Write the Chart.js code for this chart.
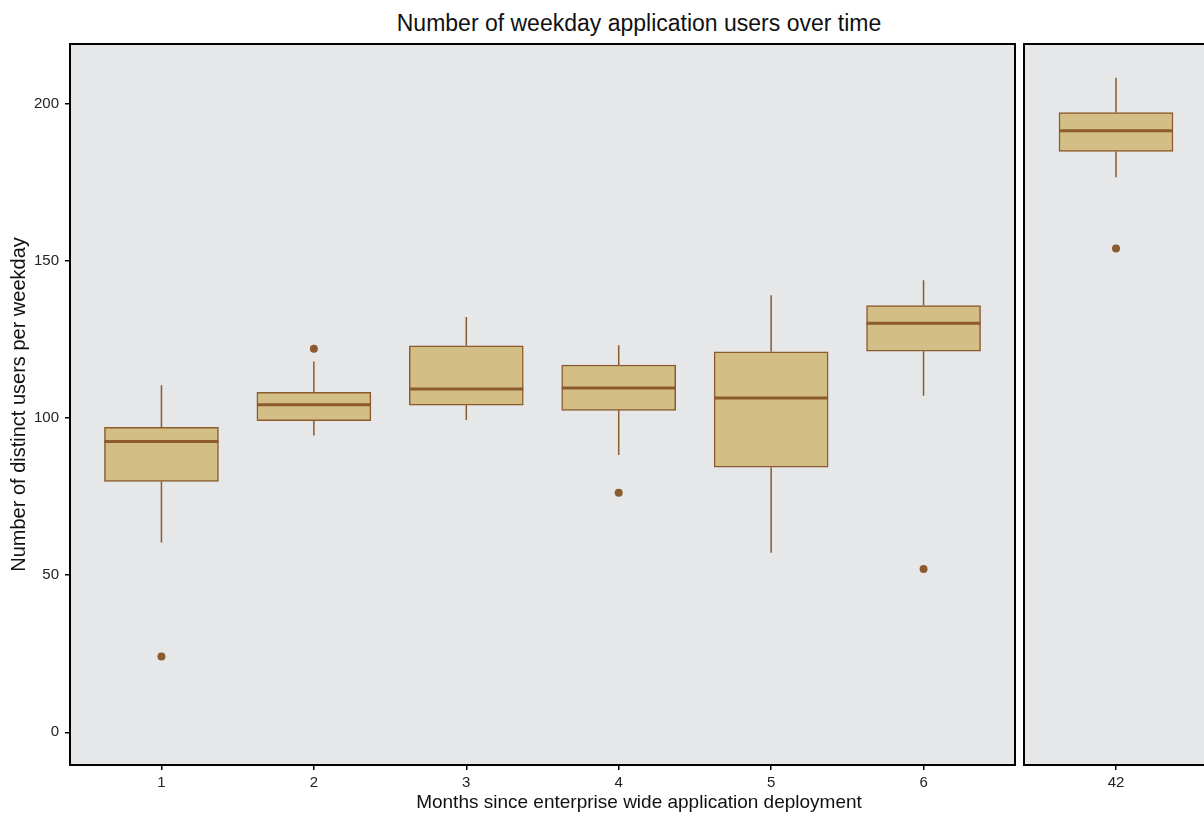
<!DOCTYPE html>
<html>
<head>
<meta charset="utf-8">
<script src="https://cdn.jsdelivr.net/npm/chart.js@4/dist/chart.umd.min.js"></script>
<style>
  body { margin: 0; background: #fff; }
  #wrap { position: relative; width: 1204px; height: 814px; overflow: hidden; background: #fff; }
  #wrap canvas { position: absolute; top: 0; }
  .lbl { position: absolute; left: 70px; width: 1138px; text-align: center; color: #111;
         font-family: "Liberation Sans", Arial, sans-serif; white-space: nowrap; }
  #title { top: 9px; font-size: 23px; line-height: 28px; }
  #xTitle { top: 790px; font-size: 19px; line-height: 24px; }
</style>
</head>
<body>
<div id="wrap">
  <div id="title" class="lbl">Number of weekday application users over time</div>
  <canvas id="panelA" width="1020" height="814" style="left:0"></canvas>
  <canvas id="panelB" width="196" height="814" style="left:1018px"></canvas>
  <div id="xTitle" class="lbl">Months since enterprise wide application deployment</div>
</div>
<script>
// months since deployment, one box per month
const months = [1, 2, 3, 4, 5, 6, 42];
const whiskerLow = [60.4, 94.4, 99.3, 88.2, 57.1, 107.0, 176.5];
const q1 = [79.8, 99.1, 104.0, 102.4, 84.3, 121.2, 184.7];
const median = [92.5, 104.2, 109.2, 109.5, 106.3, 130.1, 191.3];
const q3 = [97.0, 108.1, 122.9, 116.8, 121.0, 135.7, 197.1];
const whiskerHigh = [110.4, 117.9, 132.1, 123.1, 139.0, 143.8, 208.2];
// outliers
const outlierMonth = [1, 2, 4, 6, 42];
const outlierValue = [24.1, 122.0, 76.2, 51.9, 153.9];
const yTicks = [0, 50, 100, 150, 200];

const FILL = 'rgb(211,191,134)';
const LINE = 'rgb(139,90,46)';
const PANEL_BG = '#e6e7e8';

Chart.defaults.font.family = '"Liberation Sans", Arial, sans-serif';
Chart.defaults.color = '#222';

const boxParts = {
  id: 'boxParts',
  beforeDraw(chart) {
    const a = chart.chartArea, ctx = chart.ctx;
    ctx.save();
    ctx.fillStyle = PANEL_BG;
    ctx.fillRect(a.left, a.top, a.right - a.left, a.bottom - a.top);
    ctx.restore();
  },
  afterDatasetsDraw(chart) {
    const ctx = chart.ctx, ys = chart.scales.y;
    const idx = chart.data.datasets[0].idx;
    const bars = chart.getDatasetMeta(0).data;
    ctx.save();
    bars.forEach((bar, k) => {
      const i = idx[k];
      const x = bar.x, half = bar.width / 2;
      ctx.strokeStyle = LINE;
      ctx.lineWidth = 1.5;
      ctx.beginPath();
      ctx.moveTo(x, ys.getPixelForValue(whiskerHigh[i]));
      ctx.lineTo(x, ys.getPixelForValue(q3[i]));
      ctx.moveTo(x, ys.getPixelForValue(q1[i]));
      ctx.lineTo(x, ys.getPixelForValue(whiskerLow[i]));
      ctx.stroke();
      ctx.lineWidth = 3;
      ctx.beginPath();
      const my = ys.getPixelForValue(median[i]);
      ctx.moveTo(x - half, my);
      ctx.lineTo(x + half, my);
      ctx.stroke();
    });
    ctx.restore();
  },
  afterDraw(chart) {
    const a = chart.chartArea, ctx = chart.ctx;
    ctx.save();
    ctx.strokeStyle = '#000';
    ctx.lineWidth = 2;
    ctx.strokeRect(a.left, a.top, a.right - a.left, a.bottom - a.top);
    ctx.restore();
  }
};

function makePanel(id, keep, xMin, xMax, showY, padding) {
  const idx = months.map((m, i) => i).filter(i => keep(months[i]));
  const outIdx = outlierMonth.map((m, i) => i).filter(i => keep(outlierMonth[i]));
  return new Chart(document.getElementById(id), {
    type: 'bar',
    data: {
      datasets: [{
        idx: idx,
        data: idx.map(i => ({ x: months[i], y: [q1[i], q3[i]] })),
        backgroundColor: FILL,
        borderColor: LINE,
        borderWidth: 1.5,
        borderSkipped: false,
        barThickness: 114
      }, {
        type: 'scatter',
        data: outIdx.map(i => ({ x: outlierMonth[i], y: outlierValue[i] })),
        backgroundColor: LINE,
        borderColor: LINE,
        pointRadius: 4,
        borderWidth: 0
      }]
    },
    options: {
      responsive: false,
      animation: false,
      devicePixelRatio: 1,
      layout: { padding: padding },
      plugins: { legend: { display: false }, tooltip: { enabled: false } },
      scales: {
        x: {
          type: 'linear',
          offset: false,
          min: xMin,
          max: xMax,
          afterBuildTicks: s => { s.ticks = idx.map(i => ({ value: months[i] })); },
          afterFit: s => { s.height = 49; },
          ticks: { font: { size: 15 }, color: '#222', padding: 4 },
          grid: { offset: false, drawOnChartArea: false, drawTicks: true, tickLength: 5, color: '#000', lineWidth: 1.5 },
          border: { display: false }
        },
        y: {
          display: showY,
          min: -10.4,
          max: 218.9,
          afterBuildTicks: s => { s.ticks = yTicks.map(v => ({ value: v })); },
          afterFit: s => { s.width = showY ? 70 : 0; },
          ticks: { font: { size: 15 }, color: '#222', padding: 6 },
          grid: { drawOnChartArea: false, drawTicks: true, tickLength: 5, color: '#000', lineWidth: 1.5 },
          border: { display: false },
          title: {
            display: showY,
            text: 'Number of distinct users per weekday',
            font: { size: 20 },
            color: '#111',
            padding: { top: 7, bottom: 0 }
          }
        }
      }
    },
    plugins: [boxParts]
  });
}

makePanel('panelA', m => m < 10, 0.4, 6.6, true, { left: 0, right: 5, top: 44, bottom: 0 });
makePanel('panelB', m => m >= 10, 41.4, 42.6, false, { left: 6, right: 6, top: 44, bottom: 0 });
</script>
</body>
</html>
